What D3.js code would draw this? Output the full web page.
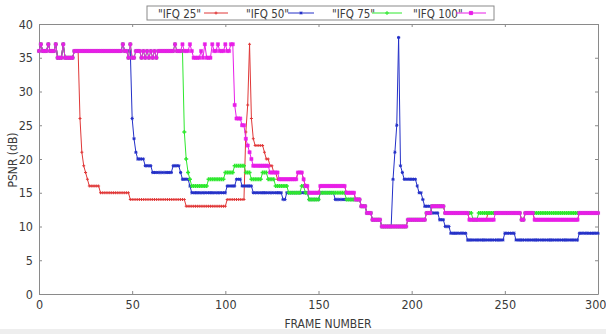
<!DOCTYPE html>
<html>
<head>
<meta charset="utf-8">
<script src="https://cdn.jsdelivr.net/npm/d3@7"></script>
<style>
body { margin: 0; background: #fff; }
text { font-family: "Liberation Sans Narrow", "DejaVu Sans Condensed", sans-serif; fill: #3a3a3a; }
.axis path, .axis line { stroke: #8a8a8a; }
</style>
</head>
<body>
<script>
// each series is a list of [first frame, PSNR] runs, value holds until the next run
let ifq25 = [[0,36],[1,37],[2,36],[5,37],[6,36],[9,37],[10,35],[13,37],[14,35],[19,36],[22,26],[23,21],[24,19],[25,18],[26,17],[27,16],[33,15],[49,14],[79,13],[101,14],[111,24],[112,28],[113,37],[114,26],[115,23],[116,22],[121,21],[122,20],[124,19],[126,18],[128,17],[139,18],[142,17],[143,16],[145,15],[151,16],[165,15],[170,14],[173,13],[176,12],[179,11],[184,10],[198,11],[208,12],[211,13],[218,12],[231,11],[241,12],[259,11],[261,12],[266,11],[290,12]];

let ifq50 = [[0,36],[1,37],[2,36],[5,37],[6,36],[9,37],[10,35],[13,37],[14,35],[19,36],[45,37],[46,36],[50,26],[51,23],[52,21],[53,20],[57,19],[61,18],[72,19],[76,18],[77,17],[81,16],[82,15],[101,16],[106,17],[109,16],[115,15],[131,14],[133,15],[145,14],[151,15],[159,14],[173,13],[176,12],[179,11],[184,10],[190,17],[191,21],[192,25],[193,38],[194,19],[195,18],[196,17],[203,16],[204,15],[206,14],[207,13],[211,12],[215,11],[218,10],[221,9],[230,8],[250,9],[256,8],[290,9]];

let ifq75 = [[0,36],[1,37],[2,36],[5,37],[6,36],[9,37],[10,35],[13,37],[14,35],[19,36],[45,37],[46,36],[48,35],[49,37],[50,35],[52,36],[55,35],[56,36],[57,35],[58,36],[59,35],[60,36],[61,35],[62,36],[63,35],[64,36],[73,37],[74,36],[78,24],[79,20],[80,18],[81,17],[82,16],[91,17],[100,18],[105,19],[111,18],[114,17],[120,18],[123,17],[127,16],[134,15],[141,16],[143,15],[145,14],[151,15],[165,14],[173,13],[176,12],[179,11],[184,10],[198,11],[208,12],[211,13],[218,12],[233,11],[236,12],[259,11],[261,12]];

let ifq100 = [[0,36],[1,37],[2,36],[5,37],[6,36],[9,37],[10,35],[13,37],[14,35],[19,36],[45,37],[46,36],[48,35],[49,37],[50,35],[52,36],[55,35],[56,36],[57,35],[58,36],[59,35],[60,36],[61,35],[62,36],[63,35],[64,36],[73,37],[74,36],[77,37],[78,36],[81,37],[82,36],[83,35],[87,36],[88,35],[89,37],[90,35],[93,37],[94,36],[96,37],[97,36],[100,37],[101,36],[103,37],[105,28],[106,26],[109,25],[111,23],[112,22],[113,21],[114,20],[115,19],[124,18],[129,17],[139,18],[142,17],[143,16],[145,15],[151,16],[165,15],[170,14],[173,13],[176,12],[179,11],[184,10],[198,11],[208,12],[211,13],[218,12],[231,11],[245,12],[259,11],[261,12],[266,11],[290,12]];

let names = ['"IFQ 25"', '"IFQ 50"', '"IFQ 75"', '"IFQ 100"'];
let colors = ["#e03838", "#2430c8", "#2ee82e", "#e81ee8"];
let xTicks = [0, 50, 100, 150, 200, 250, 300];
let yTicks = [0, 5, 10, 15, 20, 25, 30, 35, 40];
let lastFrame = 300;

let w = 606;
let h = 334;

let xScale = d3.scaleLinear().domain([0, 300]).range([39, 598]);
let yScale = d3.scaleLinear().domain([0, 40]).range([294, 24]);

function expand(runs) {
  let out = [];
  for (let i = 0; i < runs.length; i++) {
    let end = i + 1 < runs.length ? runs[i+1][0] : lastFrame + 1;
    for (let f = runs[i][0]; f < end; f++) out.push([f, runs[i][1]]);
  }
  return out;
}

let series = [ifq25, ifq50, ifq75, ifq100].map(expand);

let svg = d3.select("body").append("svg")
  .attr("width", w)
  .attr("height", h);

// grey strip at the bottom of the screenshot
svg.append("rect").attr("x", 0).attr("y", 329).attr("width", w).attr("height", 5).attr("fill", "#eeeeee");

// plot frame and inward ticks
svg.append("g").attr("class", "axis")
  .attr("transform", "translate(0," + yScale(0) + ")")
  .call(d3.axisBottom(xScale).tickValues(xTicks).tickSizeInner(-3).tickSizeOuter(0).tickPadding(6))
  .call(g => g.selectAll("text").attr("font-size", 12.5))
  .call(g => g.selectAll(".tick:last-of-type text").attr("text-anchor", "end").attr("dx", 8));

svg.append("g").attr("class", "axis")
  .attr("transform", "translate(" + xScale(0) + ",0)")
  .call(d3.axisLeft(yScale).tickValues(yTicks).tickSizeInner(-3).tickSizeOuter(0).tickPadding(6))
  .call(g => g.selectAll("text").attr("font-size", 12.5));

svg.append("g").attr("class", "axis")
  .attr("transform", "translate(0," + yScale(40) + ")")
  .call(d3.axisTop(xScale).tickValues(xTicks).tickSizeInner(-3).tickSizeOuter(0).tickFormat(""));

svg.append("g").attr("class", "axis")
  .attr("transform", "translate(" + xScale(300) + ",0)")
  .call(d3.axisRight(yScale).tickValues(yTicks).tickSizeInner(-3).tickSizeOuter(0).tickFormat(""));

let line = d3.line().x(d => xScale(d[0])).y(d => yScale(d[1]));

function marker(i, px, py) {
  if (i == 0) return "M" + (px-1.5) + "," + py + "h3M" + px + "," + (py-1.5) + "v3";
  if (i == 1) return "M" + (px-1.6) + "," + py + "h3.2M" + px + "," + (py-1.6) + "v3.2M" + (px-1.2) + "," + (py-1.2) + "l2.4,2.4M" + (px-1.2) + "," + (py+1.2) + "l2.4,-2.4";
  if (i == 2) return "M" + (px-2) + "," + py + "h4M" + px + "," + (py-2) + "v4";
  return "M" + (px-1.6) + "," + (py-1.6) + "h3.2v3.2h-3.2z";
}

series.forEach((data, i) => {
  let g = svg.append("g");
  g.append("path")
    .datum(data)
    .attr("d", line)
    .attr("fill", "none")
    .attr("stroke", colors[i])
    .attr("stroke-width", 1);
  g.selectAll("path.mk")
    .data(data)
    .enter()
    .append("path")
    .attr("class", "mk")
    .attr("d", d => marker(i, xScale(d[0]), yScale(d[1])))
    .attr("fill", i == 3 ? colors[i] : "none")
    .attr("stroke", colors[i])
    .attr("stroke-width", i == 2 ? 1.6 : (i == 3 ? 0.5 : 1));
});

// legend
let legendX = [158, 246, 332, 413];
let sampleX = [[204, 228], [288, 314], [372, 402], [456, 486]];
svg.append("rect")
  .attr("x", 147).attr("y", 6).attr("width", 347).attr("height", 14)
  .attr("fill", "#fff").attr("stroke", "#8a8a8a");

names.forEach((n, i) => {
  svg.append("text").attr("x", legendX[i]).attr("y", 17.5).attr("font-size", 11.5).text(n);
  svg.append("line")
    .attr("x1", sampleX[i][0]).attr("x2", sampleX[i][1])
    .attr("y1", 13).attr("y2", 13)
    .attr("stroke", colors[i]);
  let mx = (sampleX[i][0] + sampleX[i][1]) / 2;
  svg.append("path")
    .attr("d", marker(i, mx, 13))
    .attr("fill", i == 3 ? colors[i] : "none")
    .attr("stroke", colors[i]);
});

svg.append("text")
  .attr("x", 328).attr("y", 328)
  .attr("text-anchor", "middle")
  .attr("font-size", 12)
  .text("FRAME NUMBER");

svg.append("text")
  .attr("transform", "translate(17,160) rotate(-90)")
  .attr("text-anchor", "middle")
  .attr("font-size", 12)
  .text("PSNR (dB)");
</script>
</body>
</html>
